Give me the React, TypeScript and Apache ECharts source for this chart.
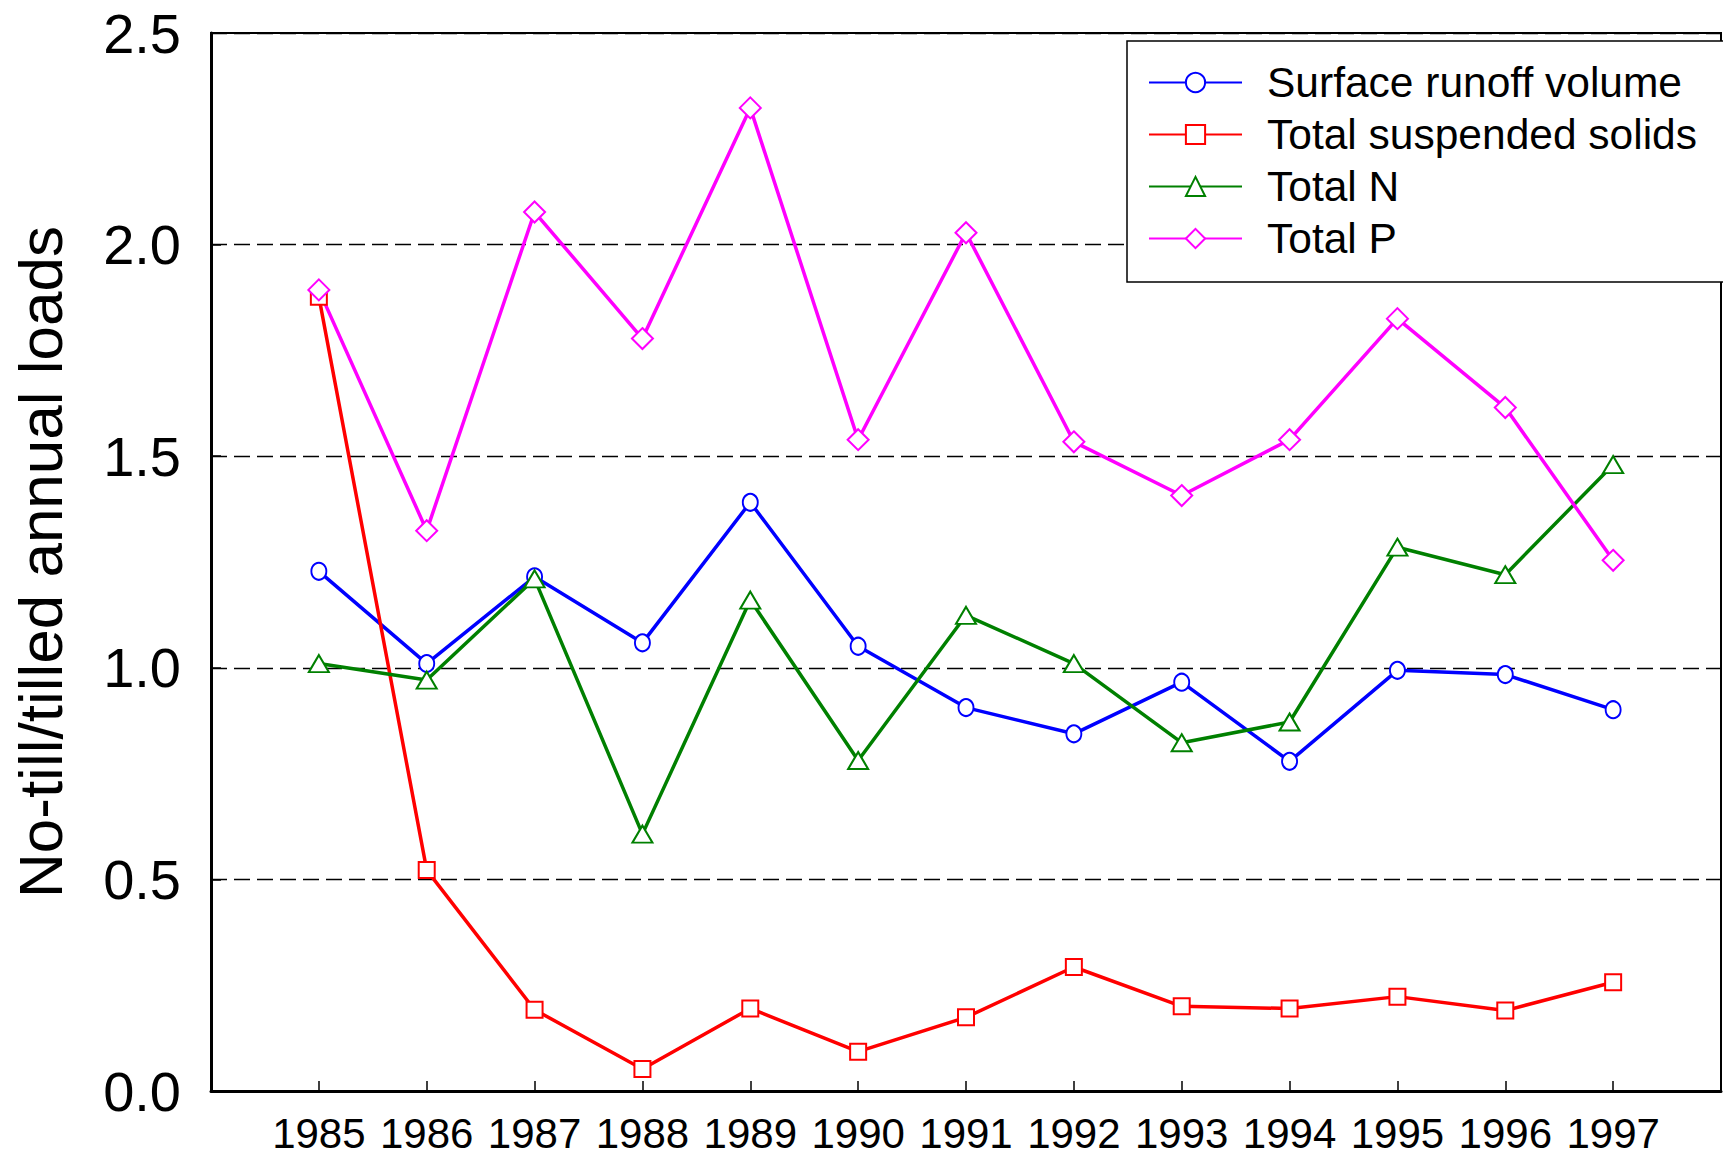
import React, { useEffect, useRef } from "react";
import * as echarts from "echarts";

const years = [1985, 1986, 1987, 1988, 1989, 1990, 1991, 1992, 1993, 1994, 1995, 1996, 1997];
const runoff = [1.228, 1.01, 1.215, 1.059, 1.391, 1.051, 0.906, 0.844, 0.966, 0.779, 0.994, 0.984, 0.901];
const tss = [1.877, 0.522, 0.192, 0.052, 0.195, 0.093, 0.174, 0.293, 0.2, 0.195, 0.223, 0.19, 0.257];
const totalN = [1.01, 0.971, 1.21, 0.607, 1.16, 0.781, 1.124, 1.01, 0.823, 0.872, 1.285, 1.22, 1.48];
const totalP = [1.893, 1.324, 2.077, 1.778, 2.323, 1.539, 2.028, 1.534, 1.407, 1.539, 1.825, 1.615, 1.254];
const seriesNames = ["Surface runoff volume", "Total suspended solids", "Total N", "Total P"];
const yTicks = [0, 0.5, 1.0, 1.5, 2.0, 2.5];

const FONT = "'Liberation Sans', Arial, sans-serif";

export default function App() {
  const ref = useRef<HTMLDivElement>(null);
  useEffect(() => {
    document.body.style.margin = "0";
    const chart = echarts.init(ref.current!, null, { renderer: "svg" });
    const pair = (vals: number[]) => years.map((y, i) => [y, vals[i]]);
    const mk = (name: string, vals: number[], color: string, symbol: string, size: any) => ({
      name,
      type: "line",
      data: pair(vals),
      symbol,
      symbolSize: size,
      showSymbol: true,
      lineStyle: { color, width: 3.5 },
      itemStyle: { color, borderColor: color, borderWidth: 2 },
      emphasis: { disabled: true },
    });
    chart.setOption({
      animation: false,
      backgroundColor: "#fff",
      grid: {
        left: 211,
        right: 2,
        top: 33,
        bottom: 67,
        show: true,
        borderColor: "#000",
        borderWidth: 2,
        backgroundColor: "transparent",
      },
      legend: {
        left: 1127,
        top: 41,
        orient: "vertical",
        padding: [20, 28, 22, 21],
        borderColor: "#000",
        borderWidth: 1.5,
        backgroundColor: "#fff",
        itemWidth: 93,
        itemHeight: 24,
        itemGap: 9,
        textStyle: {
          fontFamily: FONT,
          fontSize: 42.5,
          color: "#000",
          lineHeight: 42,
          padding: [0, 0, 0, 20],
        },
        data: seriesNames,
      },
      xAxis: {
        type: "value",
        min: 1984,
        max: 1998,
        interval: 1,
        axisLine: { show: true, onZero: false, lineStyle: { color: "#000", width: 3 } },
        axisTick: { show: true, inside: true, length: 10, lineStyle: { color: "#000", width: 1.5 } },
        splitLine: { show: false },
        axisLabel: {
          fontFamily: FONT,
          fontSize: 42,
          color: "#000",
          margin: 21,
          lineHeight: 42,
          showMinLabel: false,
          showMaxLabel: false,
          formatter: (v: number) => (years.includes(v) ? String(v) : ""),
        },
      },
      yAxis: {
        type: "value",
        min: 0,
        max: 2.5,
        interval: 0.5,
        name: "No-till/tilled annual loads",
        nameLocation: "middle",
        nameGap: 140,
        nameTextStyle: { fontFamily: FONT, fontSize: 62, color: "#000" },
        axisLine: { show: true, lineStyle: { color: "#000", width: 3 } },
        axisTick: { show: true, inside: true, length: 10, lineStyle: { color: "#000", width: 1.5 } },
        splitLine: {
          show: true,
          lineStyle: { color: "#000", width: 1.3, type: [16, 7] },
        },
        axisLabel: {
          fontFamily: FONT,
          fontSize: 56,
          color: "#000",
          margin: 30,
          formatter: (v: number) => (yTicks.includes(v) ? v.toFixed(1) : ""),
        },
      },
      series: [
        mk(seriesNames[0], runoff, "#0000ff", "emptyCircle", [15, 17]),
        mk(seriesNames[1], tss, "#ff0000", "emptyRect", 16),
        mk(seriesNames[2], totalN, "#008000", "emptyTriangle", [20, 17]),
        mk(seriesNames[3], totalP, "#ff00ff", "emptyDiamond", [21, 21]),
      ],
    });
    return () => chart.dispose();
  }, []);
  return <div ref={ref} style={{ width: 1723, height: 1158 }} />;
}
